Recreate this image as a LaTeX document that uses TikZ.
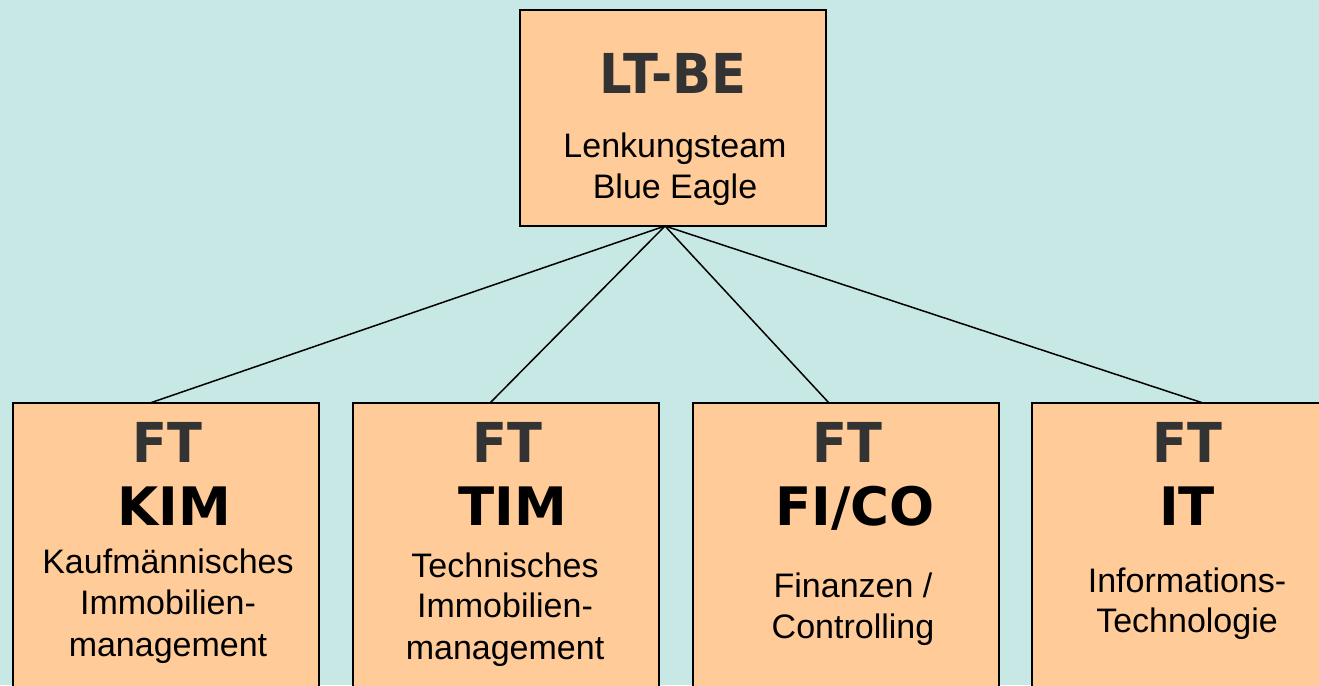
\documentclass[tikz,border=0pt]{standalone}
\usepackage{fontspec}
\setmainfont{Liberation Sans}
\newfontfamily\hdfont[FakeStretch=0.93]{DejaVu Sans}
\newfontfamily\lbfont{DejaVu Sans}
\definecolor{bgc}{HTML}{C8E8E5}
\definecolor{boxc}{HTML}{FFCC99}
\definecolor{hdc}{HTML}{333333}
\tikzset{
  box/.style={draw=black, line width=1.5pt, fill=boxc},
  head/.style={anchor=base, inner sep=0pt, text=hdc, font=\hdfont\bfseries\fontsize{55}{60}\selectfont},
  lbl/.style={anchor=base, inner sep=0pt, text=black, font=\lbfont\bfseries\fontsize{53}{58}\selectfont},
  body/.style={anchor=base, inner sep=0pt, text=black, font=\fontsize{34}{40}\selectfont},
  conn/.style={draw=black, line width=1.5pt}
}
\begin{document}
\begin{tikzpicture}[x=1pt,y=-1pt]
\useasboundingbox (0,0) rectangle (1319,685);
\clip (0,0) rectangle (1319,685);
\fill[bgc] (0,0) rectangle (1319,685);
% connectors
\coordinate (apex) at (665,226);
\coordinate (c1) at (150,403);
\coordinate (c2) at (490,403);
\coordinate (c3) at (829,403);
\coordinate (c4) at (1203,403);
\draw[conn] (apex) -- (c1);
\draw[conn] (apex) -- (c2);
\draw[conn] (apex) -- (c3);
\draw[conn] (apex) -- (c4);
% boxes
\path[box] (520,10) rectangle (826,226);
\path[box] (13,403) rectangle (319,700);
\path[box] (353,403) rectangle (659,700);
\path[box] (693,403) rectangle (999,700);
\path[box] (1032,403) rectangle (1338,700);
% top box text
\node[head] (t0) at (673,93) {LT-BE};
\node[body] (t1) at (675,157) {Lenkungsteam};
\node[body] (t2) at (675,198) {Blue Eagle};
% box 1
\node[head] (a0) at (167,462) {FT};
\node[lbl] (a1) at (174,525) {KIM};
\node[body] (a2) at (168,573) {Kaufmännisches};
\node[body] (a3) at (168,614) {Immobilien-};
\node[body] (a4) at (168,656) {management};
% box 2
\node[head] (b0) at (507,462) {FT};
\node[lbl] (b1) at (513,525) {TIM};
\node[body] (b2) at (505,577) {Technisches};
\node[body] (b3) at (505,617) {Immobilien-};
\node[body] (b4) at (505,659) {management};
% box 3
\node[head] (d0) at (847,462) {FT};
\node[lbl] (d1) at (855,525) {FI/CO};
\node[body] (d2) at (853,597) {Finanzen /};
\node[body] (d3) at (853,638) {Controlling};
% box 4
\node[head] (e0) at (1187,462) {FT};
\node[lbl] (e1) at (1187,525) {IT};
\node[body] (e2) at (1187,592) {Informations-};
\node[body] (e3) at (1187,632) {Technologie};
\end{tikzpicture}
\end{document}
